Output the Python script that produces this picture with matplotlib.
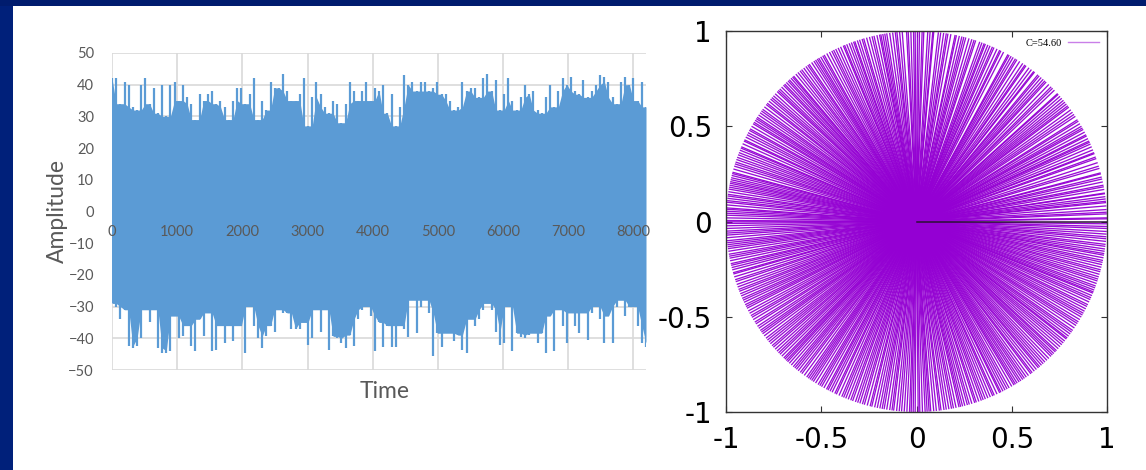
import numpy as np
import matplotlib
matplotlib.use("Agg")
import matplotlib.pyplot as plt
from matplotlib.collections import LineCollection
from matplotlib.lines import Line2D
from matplotlib.patches import Rectangle

# ---- amplitude trace, summarised as per-block maxima / minima ----
block_len = 64
upper = [42, 42, 34, 41, 40, 33, 32, 40, 42, 34,
         39, 31, 40, 30, 40, 41, 35, 40, 36, 34,
         29, 37, 35, 37, 38, 34, 35, 33, 29, 35,
         39, 39, 34, 37, 42, 29, 35, 32, 41, 39,
         39, 43.5, 38, 35, 35, 37, 42, 27, 36, 41,
         37, 33, 31, 35, 34, 28, 34, 41, 38, 35,
         38, 41, 35, 39, 38, 40, 31, 37, 27, 33,
         43, 40, 41, 38, 41, 41, 38, 39, 41, 37,
         37, 35, 32, 33, 41, 38, 39, 39, 36, 42,
         43.5, 38, 41.5, 32, 37, 42, 35, 32, 36, 40,
         37, 38, 32, 31, 36, 40, 33, 38, 42, 40,
         42.5, 38, 37, 41.5, 36, 38, 40, 43, 42.5, 41,
         36, 34, 41, 42.5, 40, 42, 35, 41, 33]
lower = [-29, -30, -34, -31, -42.5, -43, -42.5, -40, -31, -35,
         -31, -43, -44.7, -44.7, -44, -33, -40, -39.4, -36, -42.5,
         -44, -34, -39.4, -32, -44, -43.6, -36, -41.5, -36, -41,
         -36, -36, -44.7, -30, -36, -40, -43, -39.4, -36, -38,
         -31, -32, -32, -37, -37, -37, -35, -42, -40, -31,
         -38, -31, -43.6, -39.4, -40, -41.5, -43, -39, -42.5, -34,
         -31, -30, -33, -44, -35, -42.6, -36, -42.6, -42.6, -36,
         -37, -39.5, -28, -38.4, -30, -28, -32, -45.7, -38.4, -42.6,
         -38.4, -38.4, -41, -39, -43.6, -44.7, -34, -36, -34, -31,
         -29, -31, -38, -42, -41.5, -30, -44, -38.4, -39.5, -40,
         -39, -38.4, -41.5, -38.4, -44.7, -33, -44, -31, -36, -41.5,
         -32, -36, -38.4, -32, -40.5, -32, -30, -34, -41.5, -33,
         -41.5, -30, -28, -33, -30, -30, -36, -41.5, -42.6]
time_ticks = [0, 1000, 2000, 3000, 4000, 5000, 6000, 7000, 8000]
amp_ticks = [-50, -40, -30, -20, -10, 0, 10, 20, 30, 40, 50]

# ---- unit phasor directions (degrees) ----
phase_deg_a = [
    0.8, 1.1, 2.3, 2.8, 3.6, 5.7, 6.1, 6.8, 8.4, 8.6, 9.7, 10.5, 11.0, 12.9,
    13.5, 14.5, 14.8, 16.2, 16.9, 19.3,
    19.8, 20.9, 21.2, 22.1, 24.0, 24.6, 25.0, 26.7, 27.1, 28.9, 29.4, 30.0,
    31.8, 32.3, 33.5, 34.2, 35.0, 36.9, 37.4, 38.1, 39.5,
    40.3, 41.9, 42.2, 43.6, 44.4, 45.0, 47.1, 47.6, 48.3, 49.9, 50.4, 51.7,
    52.0, 53.8, 54.9, 55.3, 56.1, 58.2, 58.7, 59.5,
    60.9, 61.3, 62.8, 63.7, 64.1, 66.0, 66.5, 67.3, 68.8, 69.2, 70.6, 71.9,
    72.4, 73.1, 75.0, 75.6, 76.2, 77.9, 78.3, 79.6,
    80.5, 81.0, 82.7, 83.4, 84.8, 85.1, 86.6, 87.8, 88.3, 89.1, 90.4, 90.9,
    92.5, 93.0, 94.3, 95.9, 96.4, 97.2, 99.0, 99.6,
    100.8, 101.2, 102.9, 103.5, 104.3, 106.1, 106.6, 107.4, 108.9, 109.3,
    110.7, 112.2, 112.6, 113.5, 115.1, 115.8, 116.4, 117.2, 119.0, 119.5,
    120.9, 121.4, 122.6, 124.3, 124.8, 125.5, 127.1, 127.7, 128.5, 130.2,
    130.6, 131.9, 132.4, 133.8, 134.3, 135.9, 136.5, 137.0, 138.7, 139.4,
    140.0, 141.6, 142.1, 143.9, 144.5, 145.2, 146.8, 147.3, 148.6, 149.1,
    150.9, 151.4, 152.2, 153.7, 154.6, 155.0, 156.9, 157.3, 158.8, 159.5,
    160.3, 161.8, 162.4, 163.1, 165.0, 165.4, 166.7, 167.9, 168.4, 169.6,
    170.2, 171.8, 172.3, 173.7, 174.2, 175.9, 176.3, 177.5, 178.1, 179.7,
    180.6, 181.3, 182.9, 183.5, 184.1, 185.8, 186.4, 187.6, 188.2, 189.9,
    190.5, 191.1, 192.8, 193.3, 194.7, 195.6, 196.0, 197.8, 198.4, 199.3,
    200.9, 201.5, 202.3, 203.8, 204.4, 205.9, 206.5, 207.1, 208.8, 209.6,
    210.2, 211.9, 212.5, 213.4, 214.9, 215.5, 216.1, 217.8, 218.5, 219.2,
    220.7, 221.3, 222.9, 223.6, 224.2, 225.8, 226.9, 227.4, 228.1, 229.7,
    230.3, 231.6, 232.4, 233.0, 234.8, 235.4, 236.6, 237.2, 238.9, 239.5,
    240.1, 241.8, 242.3, 243.7, 244.6, 245.1, 246.9, 247.5, 248.2, 249.8,
    250.4, 251.3, 252.7, 253.5, 254.1, 255.9, 256.4, 257.3, 258.9, 259.6,
    260.2, 261.9, 262.6, 263.1, 264.8, 265.5, 266.3, 267.9, 268.4, 269.6,
    270.5, 271.0, 272.6, 273.8, 274.3, 275.2, 276.9, 277.4, 278.3, 279.8,
    280.6, 281.2, 282.9, 283.4, 284.7, 285.5, 286.1, 287.8, 288.3, 289.9,
    290.5, 291.2, 292.8, 293.6, 294.1, 295.9, 296.3, 297.7, 298.4, 299.1,
    300.8, 301.3, 302.6, 303.9, 304.5, 305.2, 306.9, 307.4, 308.2, 309.8,
    310.3, 311.7, 312.4, 313.2, 314.9, 315.5, 316.8, 317.3, 318.1, 319.7,
    320.4, 321.9, 322.3, 323.8, 324.5, 325.1, 326.9, 327.6, 328.2, 329.9,
    330.6, 331.2, 332.7, 333.5, 334.1, 335.8, 336.4, 337.9, 338.3, 339.6,
    340.2, 341.8, 342.4, 343.1, 344.7, 345.3, 346.9, 347.6, 348.2, 349.8,
    350.3, 351.7, 352.5, 353.1, 354.8, 355.4, 356.2, 357.9, 358.5, 359.3]
phase_deg_b = [
    4.7, 7.5, 12.0, 18.0, 23.1, 25.8, 28.0, 30.9, 35.9, 38.8,
    41.1, 46.0, 49.1, 52.9, 57.2, 60.2, 65.0, 68.0, 69.9, 74.0,
    77.0, 81.8, 85.9, 89.7, 91.7, 95.1, 98.1, 100.2, 102.0, 105.2,
    108.1, 110.0, 111.5, 114.3, 118.1, 120.2, 122.0, 123.4, 126.3, 129.3,
    131.2, 133.1, 135.1, 137.9, 140.8, 143.0, 146.0, 147.9, 150.0, 152.9,
    155.9, 158.0, 161.0, 164.0, 166.0, 167.3, 169.0, 171.0, 173.0, 175.0,
    176.9, 178.9, 180.1, 182.1, 184.9, 187.0, 189.0, 191.9, 194.0, 196.9,
    200.1, 203.0, 205.1, 208.0, 211.0, 214.1, 216.9, 219.9, 222.1, 225.0,
    226.3, 228.9, 230.9, 233.9, 236.0, 238.0, 240.9, 243.0, 246.0, 249.0,
    252.0, 255.0, 258.1, 261.0, 264.0, 267.1, 269.0, 271.8, 273.2, 276.0,
    279.0, 282.0, 284.0, 286.9, 289.1, 292.0, 295.0, 297.0, 300.0, 301.9,
    303.2, 306.0, 309.0, 311.0, 314.0, 316.1, 318.9, 321.1, 323.0, 326.0,
    329.0, 331.9, 335.0, 337.1, 338.9, 341.0, 343.9, 346.1, 349.0, 351.0,
    354.0, 357.0]
ref_phase_deg = 0.0
legend_label = "C=54.60"
polar_ticks = [-1, -0.5, 0, 0.5, 1]
polar_tick_labels = ["-1", "-0.5", "0", "0.5", "1"]

W, H = 1146, 470
fig = plt.figure(figsize=(W / 100, H / 100), dpi=100)
fig.patch.set_facecolor("white")

# slide frame
fig.add_artist(Rectangle((0, 0), 13 / W, 1, transform=fig.transFigure,
                         color="#00207a", lw=0, zorder=-5))
fig.add_artist(Rectangle((0, 1 - 6 / H), 1, 6 / H, transform=fig.transFigure,
                         color="#001c6e", lw=0, zorder=-5))

# ---- left panel: time series ----
gray_txt = "#595959"
blue = "#5B9BD5"
ax1 = fig.add_axes([112 / W, 1 - 370 / H, 534 / W, 317 / H])
t = np.arange(len(upper)) * block_len
up = np.asarray(upper, float)
lo = np.asarray(lower, float)
# dense core of the trace: the lowest neighbouring peak, plus single spikes
up_pad = np.pad(up, 1, mode="edge")
lo_pad = np.pad(lo, 1, mode="edge")
core_up = np.minimum(np.minimum(up_pad[:-2], up_pad[1:-1]), up_pad[2:])
core_lo = np.maximum(np.maximum(lo_pad[:-2], lo_pad[1:-1]), lo_pad[2:])
ax1.fill_between(t, core_lo, core_up, color=blue, lw=0, zorder=2)
ax1.vlines(t, lo, up, color=blue, lw=1.6, zorder=2)
ax1.set_xlim(0, t[-1])
ax1.set_ylim(-50, 50)
ax1.set_xticks(time_ticks)
ax1.set_yticks(amp_ticks)
ax1.grid(True, color="#D9D9D9", lw=1.2)
ax1.set_axisbelow(True)
for s in ax1.spines.values():
    s.set_visible(False)
ax1.tick_params(length=0, labelbottom=False, pad=13,
                labelsize=10.5, labelcolor=gray_txt)
for lab in ax1.get_yticklabels():
    lab.set_family("Lato")
for tt in time_ticks:
    ax1.text(tt, -6.4, str(tt), ha="center", va="center", color=gray_txt,
             fontsize=10.5, family="Lato", zorder=4)
fig.text(57 / W, 1 - 211 / H, "Amplitude", rotation=90, ha="center",
         va="center", color=gray_txt, fontsize=16.5, family="Lato")
fig.text(385 / W, 1 - 392 / H, "Time", ha="center", va="center",
         color=gray_txt, fontsize=16.5, family="Lato")

# ---- right panel: unit phasors ----
purple = "#9400D3"
ax2 = fig.add_axes([726 / W, 1 - 412 / H, 381 / W, 381 / H])
ang = np.deg2rad(phase_deg_a + phase_deg_b)
segs = [[(0.0, 0.0), (np.cos(a), np.sin(a))] for a in ang]
ax2.add_collection(LineCollection(segs, colors=purple, linewidths=0.95,
                                  alpha=0.95, zorder=2))
ra = np.deg2rad(ref_phase_deg)
ax2.plot([0, np.cos(ra)], [0, np.sin(ra)], color="#2b1036", lw=1.1, zorder=3)
ax2.set_xlim(-1, 1)
ax2.set_ylim(-1, 1)
ax2.set_xticks(polar_ticks)
ax2.set_yticks(polar_ticks)
ax2.set_xticklabels(polar_tick_labels)
ax2.set_yticklabels(polar_tick_labels)
ax2.tick_params(direction="in", top=True, right=True, length=4, width=0.8,
                color="#333333", labelsize=20)
ax2.tick_params(axis="x", pad=10)
ax2.tick_params(axis="y", pad=10)
for lab in ax2.get_xticklabels() + ax2.get_yticklabels():
    lab.set_family("DejaVu Sans")
for s in ax2.spines.values():
    s.set_color("#333333")
    s.set_linewidth(1.0)
ax2.legend(handles=[Line2D([], [], color=purple, lw=1, alpha=0.5)],
           labels=[legend_label], loc="upper right", frameon=False,
           markerfirst=False, handlelength=3.0, borderaxespad=0.35,
           handletextpad=0.6,
           prop={"family": "Liberation Serif", "size": 7.5})

fig.savefig("out.png", dpi=100, facecolor=fig.get_facecolor())
